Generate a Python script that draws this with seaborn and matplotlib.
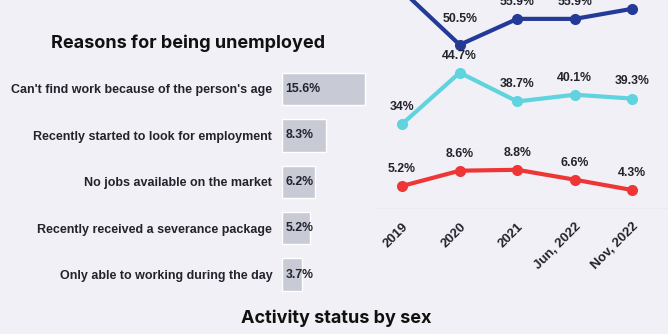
import matplotlib
matplotlib.use("Agg")
import matplotlib.pyplot as plt
import seaborn as sns
import pandas as pd

# ---- data ----
reasons = [
    "Can't find work because of the person's age",
    "Recently started to look for employment",
    "No jobs available on the market",
    "Recently received a severance package",
    "Only able to working during the day",
]
reason_values = [15.6, 8.3, 6.2, 5.2, 3.7]

periods = ["2019", "2020", "2021", "Jun, 2022", "Nov, 2022"]
series_blue = [61.8, 50.5, 55.9, 55.9, 58.0]
series_cyan = [34.0, 44.7, 38.7, 40.1, 39.3]
series_red = [5.2, 8.6, 8.8, 6.6, 4.3]
blue_labels = ["", "50.5%", "55.9%", "55.9%", ""]
cyan_labels = ["34%", "44.7%", "38.7%", "40.1%", "39.3%"]
red_labels = ["5.2%", "8.6%", "8.8%", "6.6%", "4.3%"]

title_left = "Reasons for being unemployed"
title_bottom = "Activity status by sex"

# ---- style ----
sns.set_theme(style="white")
plt.rcParams["font.family"] = ["Liberation Sans", "DejaVu Sans"]
BG = "#f0f0f6"
TXT = "#23232d"
C_BLUE = "#243a98"
C_CYAN = "#5fd3de"
C_RED = "#ef3636"
C_BAR = "#c8cad6"
LBL_SIZE = 8.8
LBL_OFF = 8
BLUE_OFF = [8, 14, 8, 8, 8]

W, H = 668, 334
fig = plt.figure(figsize=(W / 100, H / 100), dpi=100, facecolor=BG)

def px_axes(left, top, right, bottom):
    return fig.add_axes([left / W, (H - bottom) / H, (right - left) / W, (bottom - top) / H])

# ---- bar chart ----
ax_bar = px_axes(282, 65.8, 388, 297.7)
ax_bar.set_facecolor("none")
df_bar = pd.DataFrame({"reason": reasons, "value": reason_values})
sns.barplot(data=df_bar, x="value", y="reason", orient="h", color=C_BAR,
            saturation=1, width=0.7, ax=ax_bar)
ax_bar.set_xlim(0, 20)
for i, v in enumerate(reason_values):
    ax_bar.annotate(f"{v}%", (0, i), xytext=(2.5, 0), textcoords="offset points",
                    ha="left", va="center", fontsize=LBL_SIZE, fontweight="bold", color=TXT)
ax_bar.set_xlabel("")
ax_bar.set_ylabel("")
ax_bar.set_xticks([])
ax_bar.tick_params(axis="y", length=0, pad=7, labelsize=9, labelcolor=TXT)
for lab in ax_bar.get_yticklabels():
    lab.set_fontweight("bold")
sns.despine(ax=ax_bar, left=True, bottom=True)

fig.text(188 / W, 1 - 43 / H, title_left, ha="center", va="center",
         fontsize=13, fontweight="bold", color="#111111", family=["Inter", "DejaVu Sans"])
fig.text(336 / W, 1 - 318 / H, title_bottom, ha="center", va="center",
         fontsize=13, fontweight="bold", color="#111111", family=["Inter", "DejaVu Sans"])

# ---- line chart: top (blue & cyan) ----
ax_top = px_axes(363, -30, 668, 140)
ax_top.set_facecolor("none")
df_line = pd.DataFrame({"period": periods, "blue": series_blue,
                        "cyan": series_cyan, "red": series_red})
for col, color, labels, offs in [("blue", C_BLUE, blue_labels, BLUE_OFF),
                                 ("cyan", C_CYAN, cyan_labels, [LBL_OFF] * 5)]:
    sns.lineplot(data=df_line, x="period", y=col, sort=False, color=color,
                 linewidth=3, marker="o", markersize=8, markeredgewidth=0, ax=ax_top)
    for i, (v, t) in enumerate(zip(df_line[col], labels)):
        if t:
            ax_top.annotate(t, (i, v), xytext=(0, offs[i]), textcoords="offset points",
                            ha="center", va="bottom", fontsize=LBL_SIZE, fontweight="bold",
                            color=TXT)
ax_top.set_xlim(-0.68, 4.62)
ax_top.set_ylim(30.67, 66.08)
ax_top.axis("off")

# ---- line chart: bottom (red) ----
ax_red = px_axes(363, 150, 668, 209.4)
ax_red.set_facecolor("none")
sns.lineplot(data=df_line, x="period", y="red", sort=False, color=C_RED,
             linewidth=3, marker="o", markersize=8, markeredgewidth=0, ax=ax_red)
for i, (v, t) in enumerate(zip(series_red, red_labels)):
    ax_red.annotate(t, (i, v), xytext=(0, LBL_OFF), textcoords="offset points",
                    ha="center", va="bottom", fontsize=LBL_SIZE, fontweight="bold", color=TXT)
ax_red.set_xlim(-0.68, 4.62)
ax_red.set_ylim(0, 59.4 / 4.5)
ax_red.axhline(0, color="#d4d4dc", linewidth=1, xmin=0.04)
ax_red.set_yticks([])
ax_red.set_xlabel("")
ax_red.set_ylabel("")
ax_red.tick_params(axis="x", length=0, pad=8, labelsize=9.5, labelcolor=TXT)
for lab in ax_red.get_xticklabels():
    lab.set_rotation(45)
    lab.set_ha("right")
    lab.set_rotation_mode("anchor")
    lab.set_fontweight("bold")
sns.despine(ax=ax_red, left=True, bottom=True)

fig.savefig("out.png", dpi=100, facecolor=BG)
